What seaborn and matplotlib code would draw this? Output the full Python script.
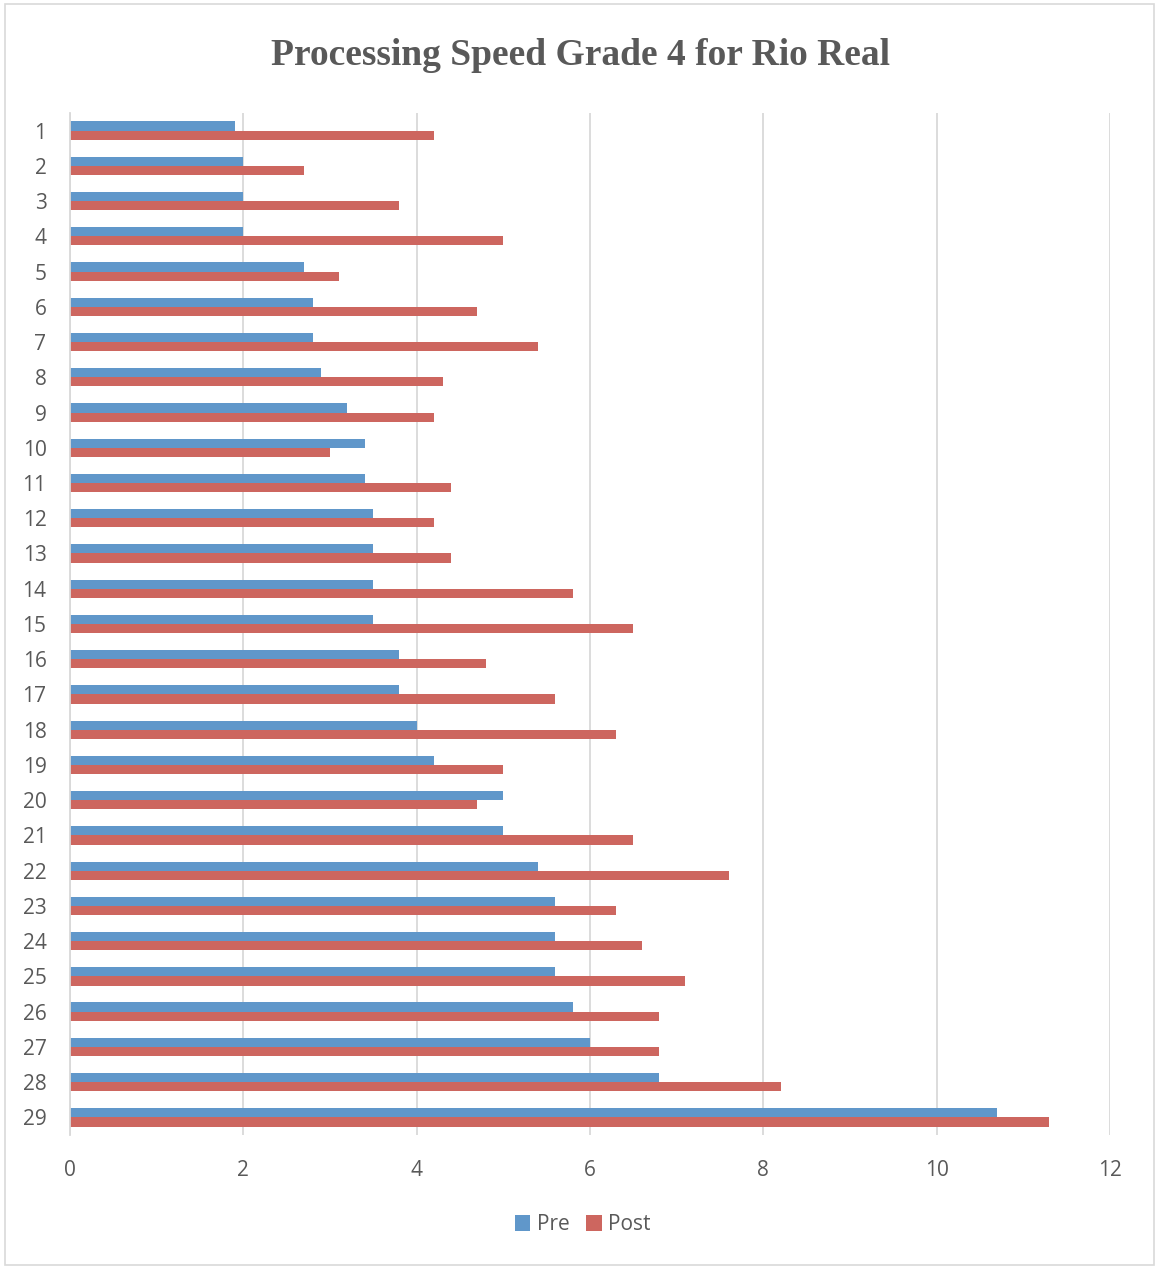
import matplotlib
matplotlib.use("Agg")
import matplotlib.pyplot as plt
import seaborn as sns
import pandas as pd
from matplotlib.patches import Rectangle

# Student numbers and processing-speed scores before and after
students = [str(i) for i in range(1, 30)]
pre = [1.9, 2.0, 2.0, 2.0, 2.7, 2.8, 2.8, 2.9, 3.2, 3.4,
       3.4, 3.5, 3.5, 3.5, 3.5, 3.8, 3.8, 4.0, 4.2, 5.0,
       5.0, 5.4, 5.6, 5.6, 5.6, 5.8, 6.0, 6.8, 10.7]
post = [4.2, 2.7, 3.8, 5.0, 3.1, 4.7, 5.4, 4.3, 4.2, 3.0,
        4.4, 4.2, 4.4, 5.8, 6.5, 4.8, 5.6, 6.3, 5.0, 4.7,
        6.5, 7.6, 6.3, 6.6, 7.1, 6.8, 6.8, 8.2, 11.3]
series = ["Pre", "Post"]
colors = ["#6097CA", "#CD665F"]
x_ticks = [0, 2, 4, 6, 8, 10, 12]

df = pd.DataFrame({
    "Student": students * 2,
    "Score": pre + post,
    "Test": [series[0]] * len(pre) + [series[1]] * len(post),
})

sns.set_theme(style="white")
plt.rcParams["font.family"] = ["Open Sans", "DejaVu Sans"]

fig = plt.figure(figsize=(11.56, 12.68), dpi=100)
ax = fig.add_axes([0.0606, 0.1049, 0.8997, 0.806])

sns.barplot(data=df, x="Score", y="Student", hue="Test", order=students,
            hue_order=series, palette=colors, orient="h", width=0.52,
            saturation=1, ax=ax, edgecolor="none", legend=True)

ax.set_xlim(0, 12)
ax.set_ylim(len(students) - 0.5, -0.5)
ax.set_xticks(x_ticks)
ax.set_xticklabels([str(t) for t in x_ticks])
ax.xaxis.grid(True, color="#D9D9D9", linewidth=1.3)
ax.yaxis.grid(False)
ax.set_axisbelow(True)
for side in ["top", "right", "bottom"]:
    ax.spines[side].set_visible(False)
ax.spines["left"].set_color("#D9D9D9")
ax.spines["left"].set_linewidth(1.3)
ax.tick_params(axis="x", length=0, pad=18, labelsize=15, labelcolor="#595959")
ax.tick_params(axis="y", length=0, pad=17, labelsize=15, labelcolor="#595959")
ax.set_xlabel("")
ax.set_ylabel("")

fig.text(0.502, 0.956, "Processing Speed Grade 4 for Rio Real",
         ha="center", va="center", fontsize=27, fontweight="bold",
         family="Liberation Serif", color="#595959")

handles, labels = ax.get_legend_handles_labels()
ax.legend_.remove()
fig.legend(handles, labels, loc="center", bbox_to_anchor=(0.504, 0.034),
           ncol=2, frameon=False, fontsize=15, handlelength=0.75,
           handleheight=0.75, handletextpad=0.3, columnspacing=0.8,
           labelcolor="#595959")

# Light outer frame around the chart
fig.patches.append(Rectangle((0.004, 0.002), 0.994, 0.995, transform=fig.transFigure,
                             fill=False, edgecolor="#D9D9D9", linewidth=1.2))

fig.savefig("out.png", dpi=100, facecolor="white")
